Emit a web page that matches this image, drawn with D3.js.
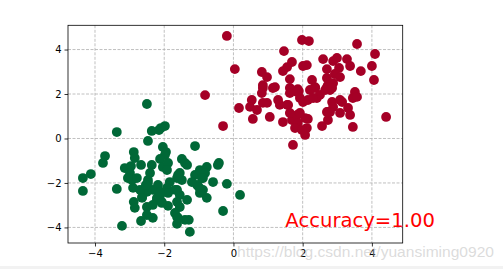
<!DOCTYPE html>
<html><head><meta charset="utf-8">
<script src="https://cdn.jsdelivr.net/npm/d3@7"></script>
<style>html,body{margin:0;padding:0;background:#fff;overflow:hidden}</style>
</head><body>
<script>
// Class 0 (red) points, data units
const redX = [-0.19,0.04,-0.82,-0.30,0.16,1.98,2.18,1.46,1.69,1.55,1.43,2.01,0.82,0.97,0.85,1.20,1.63,1.63,1.86,3.57,4.09,2.59,2.88,2.99,3.28,3.37,2.12,2.70,3.05,3.68,4.00,2.93,3.08,4.06,2.27,2.70,2.73,2.88,2.36,0.85,1.14,0.82,1.69,1.89,2.21,2.36,2.70,2.79,3.51,3.45,3.08,0.53,0.48,0.68,0.85,0.56,1.05,1.29,1.55,1.63,1.84,1.92,2.01,2.15,2.41,2.85,3.14,2.73,3.08,3.37,3.31,2.73,2.56,3.45,4.41,1.43,1.69,1.84,1.86,1.78,2.07,2.15,2.07,1.72,0.97,1.34,1.58,2.50,2.65,2.85,3.57,2.88,2.79,2.70,2.07,2.12,1.92,1.63,1.98,2.30];
const redY = [4.61,3.12,1.95,0.56,1.37,4.43,4.38,3.93,3.44,3.21,3.03,3.26,2.99,2.76,2.40,2.31,2.67,2.27,2.22,4.25,3.80,3.57,3.48,3.62,3.57,3.26,3.30,3.12,3.17,3.03,3.26,2.90,2.76,2.63,2.63,2.72,2.40,2.49,2.31,2.27,2.27,2.04,2.18,2.13,2.18,2.27,2.31,2.18,2.09,1.82,1.73,1.73,1.42,1.28,1.60,0.88,0.97,1.73,1.51,2.04,2.09,1.82,1.64,1.73,1.82,1.64,1.64,1.19,1.15,1.06,1.37,0.83,0.56,0.52,0.97,0.74,0.83,1.06,0.70,0.47,0.38,0.88,0.16,-0.29,1.60,1.51,1.51,1.96,2.18,2.27,1.87,1.42,1.19,1.19,0.92,0.47,1.15,1.15,0.38,1.82];
// Class 1 (green) points, data units
const greenX = [-2.50,-3.37,-2.36,-2.15,-1.98,-2.10,-2.47,-2.04,-1.95,-1.98,-1.11,-2.88,-2.85,-3.71,-3.77,-2.67,-3.14,-2.96,-2.99,-2.93,-2.90,-2.36,-2.41,-2.47,-2.12,-2.04,-1.89,-1.92,-1.49,-1.40,-1.55,-1.63,-1.49,-1.11,-0.97,-0.77,-0.82,-0.91,-0.42,-0.59,-0.19,0.19,-0.30,-4.12,-4.35,-4.35,-3.37,-1.84,-1.92,-1.89,-2.18,-2.33,-2.21,-2.50,-2.64,-2.70,-2.47,-1.63,-1.55,-1.63,-1.55,-1.34,-1.05,-0.97,-0.77,-0.88,-2.88,-2.85,-2.50,-2.67,-2.33,-3.22,-1.89,-1.63,-1.63,-1.40,-1.29,-1.26,-2.79,-3.05,-1.34,-0.45,-1.60,-1.20,-0.88,-1.00,-1.69,-2.07,-2.12,-1.69,-1.60,-2.50,-2.21,-2.07,-2.53,-2.12,-2.64,-2.33];
const greenY = [1.55,0.29,0.34,0.38,0.56,0.47,-0.11,-0.38,-0.61,-0.74,-0.34,-0.61,-0.88,-0.79,-1.10,-1.19,-1.33,-1.24,-1.55,-1.87,-2.22,-1.19,-1.55,-1.87,-0.92,-1.28,-1.10,-1.42,-0.92,-1.10,-1.55,-1.78,-1.87,-1.64,-1.42,-1.28,-1.55,-1.78,-1.10,-1.96,-2.04,-2.54,-3.26,-1.60,-1.78,-2.36,-2.27,-1.96,-2.22,-2.45,-2.09,-2.31,-2.67,-2.40,-2.63,-2.31,-2.00,-2.31,-2.54,-2.85,-3.08,-2.76,-2.09,-2.45,-2.67,-2.31,-2.85,-3.12,-3.08,-3.71,-3.57,-3.93,-3.03,-3.53,-3.84,-3.66,-3.66,-4.20,-1.78,-1.78,-1.19,-1.19,-1.64,-1.96,-1.78,-2.18,-2.31,-2.85,-2.54,-3.35,-3.57,-3.44,-2.76,-2.90,-2.09,-2.40,-2.67,-2.99];
const xTicks = [-4,-2,0,2,4];
const yTicks = [-4,-2,0,2,4];
const accText = "Accuracy=1.00";
const accPos = [1.5, -4];
const watermark = "https://blog.csdn.net/yuansiming0920";

const W = 503, H = 269;
const svg = d3.select("body").append("svg").attr("width", W).attr("height", H);
const L = 68, R = 402.7, T = 25.3, B = 243;
const x = d3.scaleLinear().domain([-4.78, 4.89]).range([L, R]);
const y = d3.scaleLinear().domain([-4.70, 5.09]).range([B, T]);

// grid
const g = svg.append("g");
g.selectAll("line.gx").data(xTicks).join("line")
  .attr("x1", d => x(d)).attr("x2", d => x(d)).attr("y1", T).attr("y2", B)
  .attr("stroke", "#b0b0b0").attr("stroke-width", 0.8).attr("stroke-dasharray", "3,1.5");
g.selectAll("line.gy").data(yTicks).join("line")
  .attr("y1", d => y(d)).attr("y2", d => y(d)).attr("x1", L).attr("x2", R)
  .attr("stroke", "#b0b0b0").attr("stroke-width", 0.8).attr("stroke-dasharray", "3,1.5");

const red = redX.map((v, i) => [v, redY[i]]);
const green = greenX.map((v, i) => [v, greenY[i]]);
svg.append("g").selectAll("circle").data(red).join("circle")
  .attr("cx", d => x(d[0])).attr("cy", d => y(d[1])).attr("r", 4.9).attr("fill", "#a50026");
svg.append("g").selectAll("circle").data(green).join("circle")
  .attr("cx", d => x(d[0])).attr("cy", d => y(d[1])).attr("r", 4.9).attr("fill", "#006837");

// axes
const fmt = d => d < 0 ? "\u2212" + Math.abs(d) : String(d);
const ax = svg.append("g").attr("transform", `translate(0,${B})`)
  .call(d3.axisBottom(x).tickValues(xTicks).tickSize(3.5).tickPadding(3).tickFormat(fmt));
const ay = svg.append("g").attr("transform", `translate(${L},0)`)
  .call(d3.axisLeft(y).tickValues(yTicks).tickSize(3.5).tickPadding(3).tickFormat(fmt));
[ax, ay].forEach(a => {
  a.select(".domain").remove();
  a.selectAll("text").attr("font-family", "DejaVu Sans").attr("font-size", 10).attr("fill", "#000");
  a.selectAll("line").attr("stroke", "#000").attr("stroke-width", 0.8);
});
svg.append("rect").attr("x", L).attr("y", T).attr("width", R - L).attr("height", B - T)
  .attr("fill", "none").attr("stroke", "#000").attr("stroke-width", 0.8);

svg.append("text").attr("x", x(accPos[0])).attr("y", y(accPos[1]))
  .attr("font-family", "DejaVu Sans").attr("font-size", 19.6).attr("fill", "#ff0000").text(accText);

svg.append("text").attr("x", 237).attr("y", 257)
  .attr("font-family", "Liberation Sans").attr("font-size", 15.5)
  .attr("textLength", 257).attr("lengthAdjust", "spacingAndGlyphs")
  .attr("fill", "rgba(190,190,190,0.55)").text(watermark);
svg.append("rect").attr("x", 0).attr("y", 266).attr("width", W).attr("height", 3).attr("fill", "#f2f2f2");
</script>
</body></html>
